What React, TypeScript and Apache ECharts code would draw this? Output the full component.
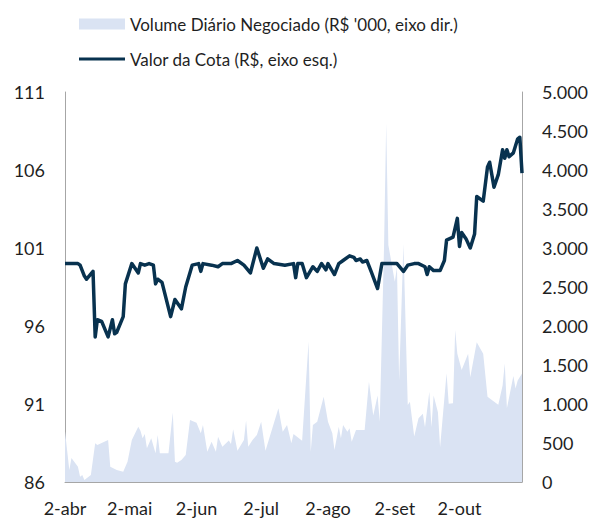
import React, { useEffect, useRef } from "react";
import * as echarts from "echarts";

// Day offsets counted from 2-abr (day 0)
const monthTickDays = [0, 30, 61, 91, 122, 153, 183];
const monthLabels = ["2-abr", "2-mai", "2-jun", "2-jul", "2-ago", "2-set", "2-out"];

const VOL_NAME = "Volume Diário Negociado (R$ '000, eixo dir.)";
const COTA_NAME = "Valor da Cota (R$, eixo esq.)";

const cotaDays = [
  0, 6, 7, 9, 10, 13, 14, 15, 17, 20, 22, 23, 24, 27, 28, 31, 34, 35, 37, 39,
  41, 42, 43, 45, 49, 51, 54, 56, 59, 62, 63, 64, 68, 71, 73, 77, 80, 83, 86, 89,
  92, 94, 97, 102, 106, 107, 108, 110, 112, 115, 117, 119, 121, 122, 125, 127, 129, 132, 134, 135,
  137, 138, 140, 142, 145, 147, 154, 157, 159, 162, 164, 167, 168, 169, 171, 174, 176, 177, 180, 182,
  183, 184, 186, 188, 190, 191, 194, 196, 197, 199, 201, 203, 204, 205, 206, 208, 210, 211, 212,
];
const cotaValues = [
  100.0, 100.0, 99.9, 99.2, 99.0, 99.5, 95.3, 96.4, 96.3, 95.3, 96.4, 95.5, 95.6, 96.6, 98.7, 100.0, 99.4, 100.0, 99.9, 100.0,
  99.9, 98.7, 99.0, 98.8, 96.6, 97.7, 97.1, 98.5, 99.9, 100.0, 99.5, 100.0, 99.9, 99.8, 100.0, 100.0, 100.2, 99.9, 99.4, 101.0,
  99.7, 100.3, 100.0, 99.9, 100.0, 99.1, 100.0, 100.0, 99.1, 99.8, 99.5, 100.0, 99.6, 100.0, 99.3, 100.0, 100.2, 100.5, 100.4, 100.2,
  100.3, 100.1, 100.2, 99.5, 98.4, 100.0, 100.0, 99.5, 99.9, 100.0, 100.0, 99.8, 99.3, 99.8, 99.55, 99.55, 100.2, 101.5, 101.7, 102.9,
  101.1, 102.0, 101.6, 101.0, 101.9, 104.3, 104.0, 106.2, 106.5, 104.9, 105.7, 107.3, 106.75, 107.3, 106.85, 107.1, 108.0, 108.1, 105.8,
];

const volDays = [
  0, 2, 3, 6, 7, 8, 9, 12, 14, 15, 20, 21, 24, 27, 29, 31, 34, 35, 36, 37,
  38, 40, 42, 43, 44, 48, 50, 51, 52, 54, 56, 58, 61, 63, 64, 66, 68, 70, 71, 73,
  76, 77, 78, 80, 83, 84, 85, 87, 89, 91, 93, 99, 101, 103, 105, 106, 110, 113, 114, 115,
  117, 120, 122, 124, 125, 127, 128, 129, 131, 132, 133, 135, 139, 141, 143, 145, 146, 148, 149, 150,
  153, 154, 155, 157, 159, 160, 162, 164, 166, 167, 169, 170, 171, 173, 174, 177, 178, 180, 181, 182,
  184, 187, 188, 191, 194, 196, 198, 201, 203, 204, 205, 208, 209, 210, 212,
];
const volValues = [
  650, 154, 308, 196, 68, 90, 25, 90, 496, 474, 538, 196, 154, 132, 260, 538, 709, 658, 560, 615,
  432, 560, 368, 603, 368, 368, 890, 260, 247, 282, 346, 795, 760, 624, 731, 389, 517, 389, 581, 453,
  532, 487, 676, 401, 538, 788, 453, 538, 603, 773, 401, 945, 645, 731, 496, 615, 530, 1800, 388, 731,
  773, 1094, 773, 624, 410, 709, 560, 731, 645, 688, 517, 667, 667, 1286, 853, 1109, 773, 3017, 4600, 3040,
  2567, 2754, 1300, 3050, 987, 1030, 582, 816, 874, 702, 1158, 702, 1109, 895, 445, 1393, 1003, 1010, 1949, 1643,
  1436, 1643, 1343, 1792, 1643, 1094, 1051, 990, 1237, 1520, 945, 1360, 1200, 1300, 1390,
];

const FONT = "Lato";
const TEXT_COLOR = "#1f1f1f";
const AXIS_COLOR = "#a6a6a6";
const AREA_COLOR = "#dae3f3";
const LINE_COLOR = "#08324f";

function fmtThousands(v: number): string {
  return String(v).replace(/\B(?=(\d{3})+(?!\d))/g, ".");
}

export default function App() {
  const ref = useRef<HTMLDivElement>(null);

  useEffect(() => {
    if (!ref.current) return;
    const chart = echarts.init(ref.current, undefined, { renderer: "svg" });
    chart.setOption({
      animation: false,
      backgroundColor: "#ffffff",
      textStyle: { fontFamily: FONT },
      legend: {
        orient: "vertical",
        left: 79,
        top: 14,
        padding: 0,
        itemWidth: 46,
        itemHeight: 11,
        itemGap: 15,
        textStyle: { fontFamily: FONT, fontSize: 17, color: TEXT_COLOR, lineHeight: 20 },
        data: [
          { name: VOL_NAME, icon: "rect" },
          { name: COTA_NAME, icon: "path://M0,0H46V3H0Z" },
        ],
      },
      grid: { left: 65, right: 70, top: 92, bottom: 37, containLabel: false },
      xAxis: {
        type: "value",
        min: 0,
        max: 212,
        splitLine: { show: false },
        axisTick: { show: false },
        axisLine: { show: true, onZero: false, lineStyle: { color: AXIS_COLOR, width: 1 } },
        axisLabel: {
          customValues: monthTickDays,
          margin: 17,
          fontFamily: FONT,
          fontSize: 18,
          color: TEXT_COLOR,
          formatter: (v: number) => {
            const i = monthTickDays.indexOf(Math.round(v));
            return i >= 0 ? monthLabels[i] : "";
          },
        },
      },
      yAxis: [
        {
          type: "value",
          position: "left",
          min: 86,
          max: 111,
          interval: 5,
          splitLine: { show: false },
          axisTick: { show: false },
          axisLine: { show: true, lineStyle: { color: AXIS_COLOR, width: 1 } },
          axisLabel: { margin: 20, fontFamily: FONT, fontSize: 18, color: TEXT_COLOR },
        },
        {
          type: "value",
          position: "right",
          min: 0,
          max: 5000,
          interval: 500,
          splitLine: { show: false },
          axisTick: { show: false },
          axisLine: { show: true, lineStyle: { color: AXIS_COLOR, width: 1 } },
          axisLabel: {
            margin: 20,
            fontFamily: FONT,
            fontSize: 18,
            color: TEXT_COLOR,
            formatter: (v: number) => fmtThousands(v),
          },
        },
      ],
      series: [
        {
          name: VOL_NAME,
          type: "line",
          yAxisIndex: 1,
          symbol: "none",
          lineStyle: { width: 0, color: AREA_COLOR },
          itemStyle: { color: AREA_COLOR },
          areaStyle: { color: AREA_COLOR, opacity: 1 },
          data: volDays.map((d, i) => [d, volValues[i]]),
          z: 1,
        },
        {
          name: COTA_NAME,
          type: "line",
          yAxisIndex: 0,
          symbol: "none",
          lineStyle: { width: 3.5, color: LINE_COLOR, join: "round" },
          itemStyle: { color: LINE_COLOR },
          data: cotaDays.map((d, i) => [d, cotaValues[i]]),
          z: 3,
        },
      ],
    });
    return () => chart.dispose();
  }, []);

  return (
    <div
      ref={ref}
      style={{ position: "fixed", left: 0, top: 0, width: 592, height: 519, background: "#fff" }}
    />
  );
}
